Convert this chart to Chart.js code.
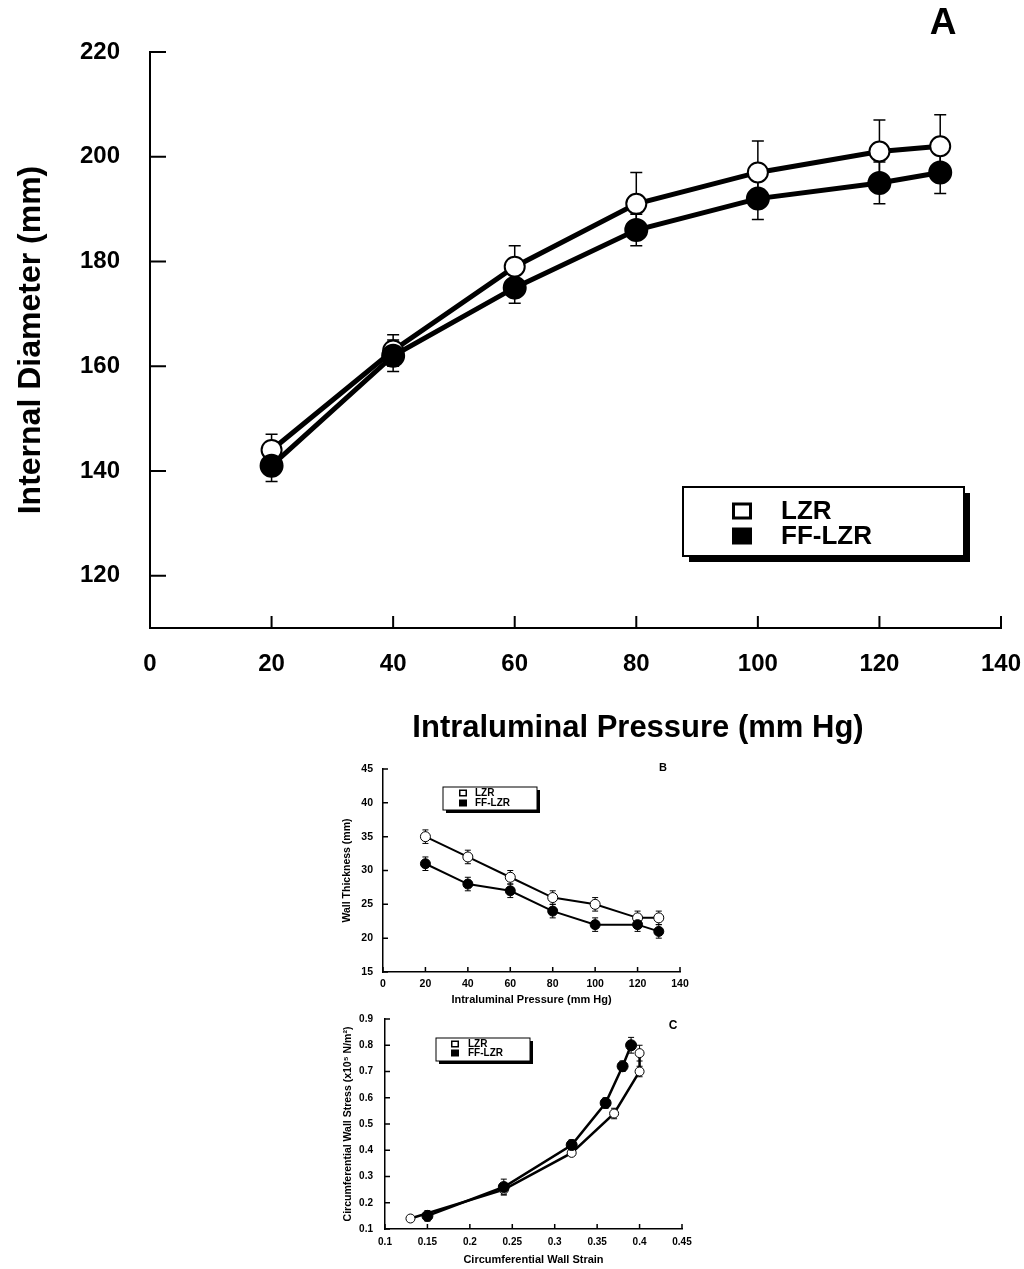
<!DOCTYPE html>
<html lang="en">
<head>
<meta charset="UTF-8">
<title>Diameter, wall thickness and wall stress</title>
<script src="https://cdn.jsdelivr.net/npm/chart.js"></script>
<style>
  body { margin: 0; background: #fff; }
  #wrap { position: relative; width: 1024px; height: 1269px; }
  canvas { position: absolute; left: 0; }
</style>
</head>
<body>
<div id="wrap">
  <canvas id="chartA" width="1024" height="760" style="top:0px"></canvas>
  <canvas id="chartB" width="1024" height="250" style="top:760px"></canvas>
  <canvas id="chartC" width="1024" height="259" style="top:1010px"></canvas>
</div>
<script>
// ---- data ----
var seriesNames = ['LZR', 'FF-LZR'];

// A: internal diameter vs pressure
var pressure = [20, 40, 60, 80, 100, 120, 130];
var lzrDiameter = [144, 163, 179, 191, 197, 201, 202];
var lzrDiameterErr = [3, 3, 4, 6, 6, 6, 6];
var ffDiameter = [141, 162, 175, 186, 192, 195, 197];
var ffDiameterErr = [3, 3, 3, 3, 4, 4, 4];
var xTicksA = [0, 20, 40, 60, 80, 100, 120, 140];
var yTicksA = [120, 140, 160, 180, 200, 220];

// B: wall thickness vs pressure
var lzrThickness = [35, 32, 29, 26, 25, 23, 23];
var lzrThicknessErr = [1, 1, 1, 1, 1, 1, 1];
var ffThickness = [31, 28, 27, 24, 22, 22, 21];
var ffThicknessErr = [1, 1, 1, 1, 1, 1, 1];
var xTicksB = [0, 20, 40, 60, 80, 100, 120, 140];
var yTicksB = [15, 20, 25, 30, 35, 40, 45];

// C: stress vs strain
var lzrStrain = [0.13, 0.24, 0.32, 0.37, 0.40, 0.40];
var lzrStress = [0.14, 0.25, 0.39, 0.54, 0.70, 0.77];
var lzrStressErr = [0.005, 0.02, 0.01, 0.02, 0.02, 0.03];
var ffStrain = [0.15, 0.24, 0.32, 0.36, 0.38, 0.39];
var ffStress = [0.15, 0.26, 0.42, 0.58, 0.72, 0.80];
var ffStressErr = [0.02, 0.03, 0.02, 0.02, 0.02, 0.03];
var xTicksC = [0.1, 0.15, 0.2, 0.25, 0.3, 0.35, 0.4, 0.45];
var yTicksC = [0.1, 0.2, 0.3, 0.4, 0.5, 0.6, 0.7, 0.8, 0.9];

var FONT = '"Liberation Sans", Arial, Helvetica, sans-serif';

function pts(xs, ys, errs) {
    return xs.map(function (x, i) { return { x: x, y: ys[i], err: errs[i] }; });
}

// error bars, inward ticks, panel letter and boxed legend
var panelExtras = {
    id: 'panelExtras',
    beforeDatasetsDraw: function (chart, args, o) {
        var ctx = chart.ctx, xs = chart.scales.x, ys = chart.scales.y;
        ctx.save();
        ctx.strokeStyle = '#000';
        ctx.lineWidth = o.errWidth;
        chart.data.datasets.forEach(function (ds) {
            ds.data.forEach(function (p) {
                var px = xs.getPixelForValue(p.x);
                var top = ys.getPixelForValue(p.y + p.err);
                var bot = ys.getPixelForValue(p.y - p.err);
                ctx.beginPath();
                ctx.moveTo(px, top); ctx.lineTo(px, bot);
                ctx.moveTo(px - o.cap, top); ctx.lineTo(px + o.cap, top);
                ctx.moveTo(px - o.cap, bot); ctx.lineTo(px + o.cap, bot);
                ctx.stroke();
            });
        });
        ctx.restore();
    },
    afterDraw: function (chart, args, o) {
        var ctx = chart.ctx, a = chart.chartArea;
        var xs = chart.scales.x, ys = chart.scales.y;
        ctx.save();
        ctx.strokeStyle = '#000';
        ctx.lineWidth = o.tickWidth;
        ctx.beginPath();
        xs.ticks.forEach(function (t) {
            var px = xs.getPixelForValue(t.value);
            ctx.moveTo(px, a.bottom); ctx.lineTo(px, a.bottom - o.tickX);
        });
        ys.ticks.forEach(function (t) {
            var py = ys.getPixelForValue(t.value);
            ctx.moveTo(a.left, py); ctx.lineTo(a.left + o.tickY, py);
        });
        ctx.stroke();

        ctx.fillStyle = '#000';
        ctx.textAlign = 'center';
        ctx.textBaseline = 'middle';
        // x title placed off-centre, as in the original figure
        if (o.xTitle) {
            ctx.font = 'bold ' + o.xTitle.size + 'px ' + FONT;
            ctx.fillText(o.xTitle.text, o.xTitle.x, o.xTitle.y);
        }

        // panel letter
        ctx.font = 'bold ' + o.letter.size + 'px ' + FONT;
        ctx.fillText(o.letter.text, o.letter.x, o.letter.y);

        // legend box with drop shadow
        var L = o.legend;
        ctx.fillStyle = '#000';
        ctx.fillRect(L.x + L.shadow, L.y + L.shadow, L.w, L.h);
        ctx.fillStyle = '#fff';
        ctx.fillRect(L.x, L.y, L.w, L.h);
        ctx.lineWidth = L.line;
        ctx.strokeStyle = '#000';
        ctx.strokeRect(L.x, L.y, L.w, L.h);
        ctx.font = 'bold ' + L.font + 'px ' + FONT;
        ctx.textAlign = 'left';
        chart.data.datasets.forEach(function (ds, i) {
            var cy = L.rows[i];
            var mw = L.mw, mh = L.mh;
            if (ds.pointBackgroundColor === '#fff') {
                ctx.fillStyle = '#fff';
                ctx.fillRect(L.mx - mw / 2, cy - mh / 2, mw, mh);
                ctx.lineWidth = L.mline;
                ctx.strokeRect(L.mx - mw / 2 + L.mline / 2, cy - mh / 2 + L.mline / 2, mw - L.mline, mh - L.mline);
            } else {
                ctx.fillStyle = '#000';
                ctx.fillRect(L.mx - mw / 2, cy - mh / 2, mw, mh);
            }
            ctx.fillStyle = '#000';
            ctx.fillText(ds.label, L.tx, cy + L.textDy);
        });
        ctx.restore();
    }
};

function makeDataset(label, data, filled, st) {
    return {
        label: label,
        data: data,
        showLine: true,
        borderColor: '#000',
        backgroundColor: filled ? '#000' : '#fff',
        borderWidth: st.line,
        pointRadius: filled ? st.radiusFilled : st.radius,
        pointBorderWidth: st.pointBorder,
        pointBackgroundColor: filled ? '#000' : '#fff',
        pointBorderColor: '#000',
        order: filled ? 0 : 1,
        tension: 0
    };
}

function makeAxis(o) {
    return {
        type: 'linear',
        min: o.min,
        max: o.max,
        afterBuildTicks: function (scale) {
            scale.ticks = o.ticks.map(function (v) { return { value: v }; });
        },
        afterFit: function (scale) {
            if (o.width) scale.width = o.width;
            if (o.height) scale.height = o.height;
            // let layout.padding alone decide the plot edges
            scale.paddingLeft = scale.paddingRight = 0;
            scale.paddingTop = scale.paddingBottom = 0;
        },
        grid: { display: false, drawTicks: false, tickLength: 0 },
        border: { display: true, color: '#000', width: o.axisWidth },
        ticks: {
            color: '#000',
            padding: o.tickPad,
            maxRotation: 0,
            autoSkip: false,
            font: { family: FONT, weight: 'bold', size: o.tickSize, lineHeight: 1.2 },
            callback: function (v) { return String(+v.toFixed(2)); }
        },
        title: {
            display: o.title !== null,
            text: o.title || '',
            color: '#000',
            font: { family: FONT, weight: 'bold', size: o.titleSize, lineHeight: 1.2 },
            padding: o.titlePad
        }
    };
}

function makeChart(id, datasets, cfg) {
    return new Chart(document.getElementById(id), {
        type: 'scatter',
        data: { datasets: datasets },
        options: {
            responsive: false,
            animation: false,
            layout: { padding: cfg.padding },
            scales: { x: makeAxis(cfg.x), y: makeAxis(cfg.y) },
            plugins: {
                legend: { display: false },
                tooltip: { enabled: false },
                panelExtras: cfg.extras
            }
        },
        plugins: [panelExtras]
    });
}

// ---- panel A ----
var styleA = { line: 5, radius: 10, radiusFilled: 11, pointBorder: 2 };
makeChart('chartA', [
    makeDataset(seriesNames[0], pts(pressure, lzrDiameter, lzrDiameterErr), false, styleA),
    makeDataset(seriesNames[1], pts(pressure, ffDiameter, ffDiameterErr), true, styleA)
], {
    padding: { top: 52, right: 23, left: 0, bottom: 0 },
    x: { min: 0, max: 140, ticks: xTicksA, height: 132, axisWidth: 2, tickPad: 22, tickSize: 24,
         title: null, titleSize: 31, titlePad: 0 },
    y: { min: 110, max: 220, ticks: yTicksA, width: 150, axisWidth: 2, tickPad: 30, tickSize: 24,
         title: 'Internal Diameter (mm)', titleSize: 32, titlePad: { top: 12, bottom: 0 } },
    extras: {
        errWidth: 1.5, cap: 6, tickWidth: 2, tickX: 12, tickY: 16,
        xTitle: { text: 'Intraluminal Pressure (mm Hg)', x: 638, y: 728, size: 31 },
        letter: { text: 'A', x: 943, y: 24, size: 37 },
        legend: { x: 683, y: 487, w: 281, h: 69, shadow: 6, line: 2,
                  mx: 742, mw: 20, mh: 17, mline: 3, rows: [511, 536],
                  tx: 781, font: 26, textDy: 1 }
    }
});

// ---- panel B ----
var styleB = { line: 2, radius: 5, radiusFilled: 5, pointBorder: 1 };
makeChart('chartB', [
    makeDataset(seriesNames[0], pts(pressure, lzrThickness, lzrThicknessErr), false, styleB),
    makeDataset(seriesNames[1], pts(pressure, ffThickness, ffThicknessErr), true, styleB)
], {
    padding: { top: 9, right: 344, left: 313, bottom: 0 },
    x: { min: 0, max: 140, ticks: xTicksB, height: 38, axisWidth: 1.5, tickPad: 6, tickSize: 10.5,
         title: 'Intraluminal Pressure (mm Hg)', titleSize: 11, titlePad: { top: 0, bottom: 3 } },
    y: { min: 15, max: 45, ticks: yTicksB, width: 70, axisWidth: 1.5, tickPad: 10, tickSize: 10.5,
         title: 'Wall Thickness (mm)', titleSize: 10.5, titlePad: { top: 28, bottom: 0 } },
    extras: {
        errWidth: 1, cap: 3, tickWidth: 1.5, tickX: 5, tickY: 5,
        letter: { text: 'B', x: 663, y: 8, size: 11 },
        legend: { x: 443, y: 27, w: 94, h: 23, shadow: 3, line: 1,
                  mx: 463, mw: 8, mh: 7, mline: 1.5, rows: [33, 43],
                  tx: 475, font: 10, textDy: 0.5 }
    }
});

// ---- panel C ----
var styleC = { line: 2.5, radius: 4.5, radiusFilled: 5.5, pointBorder: 1 };
makeChart('chartC', [
    makeDataset(seriesNames[0], pts(lzrStrain, lzrStress, lzrStressErr), false, styleC),
    makeDataset(seriesNames[1], pts(ffStrain, ffStress, ffStressErr), true, styleC)
], {
    padding: { top: 9, right: 342, left: 313, bottom: 0 },
    x: { min: 0.1, max: 0.45, ticks: xTicksC, height: 40, axisWidth: 1.5, tickPad: 7, tickSize: 10,
         title: 'Circumferential Wall Strain', titleSize: 11, titlePad: { top: 0, bottom: 2 } },
    y: { min: 0.1, max: 0.9, ticks: yTicksC, width: 72, axisWidth: 1.5, tickPad: 12, tickSize: 10,
         title: 'Circumferential Wall Stress (x10\u2075 N/m\u00b2)', titleSize: 10.5, titlePad: { top: 29, bottom: 0 } },
    extras: {
        errWidth: 1, cap: 3, tickWidth: 1.5, tickX: 5, tickY: 5,
        letter: { text: 'C', x: 673, y: 16, size: 12 },
        legend: { x: 436, y: 28, w: 94, h: 23, shadow: 3, line: 1,
                  mx: 455, mw: 8, mh: 7, mline: 1.5, rows: [34, 43],
                  tx: 468, font: 10, textDy: 0.5 }
    }
});
</script>
</body>
</html>
